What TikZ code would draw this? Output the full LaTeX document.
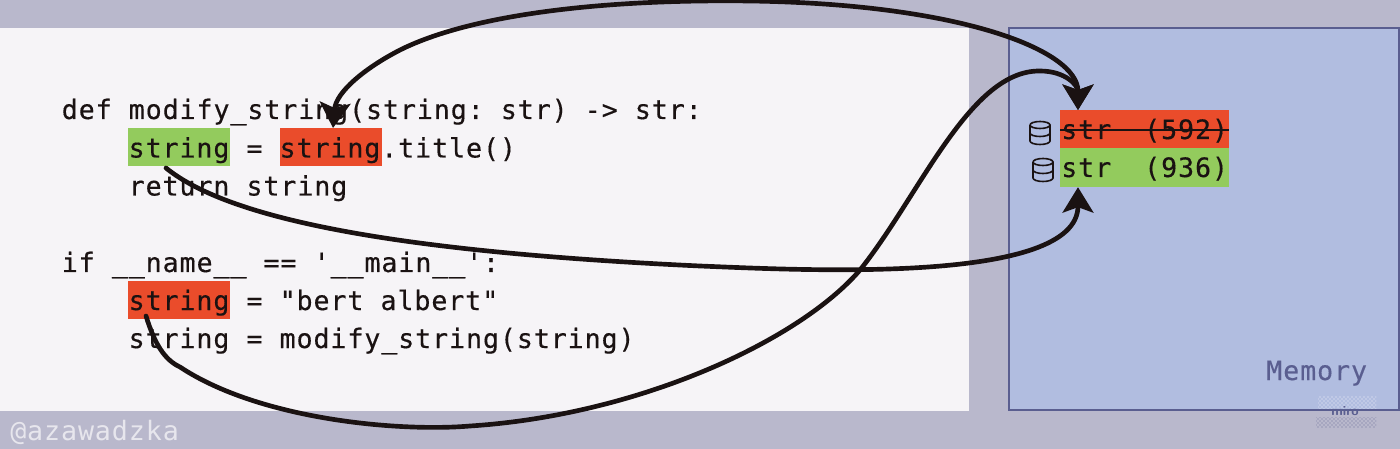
\documentclass[tikz,border=0pt]{standalone}
\usepackage{fontspec}
\usetikzlibrary{arrows.meta,patterns}
\newfontfamily\codefont[LetterSpace=3.35,FakeBold=0.35]{DejaVu Sans Mono}
\newfontfamily\markfont[LetterSpace=3.35]{DejaVu Sans Mono}
\newcommand\codestyle{\codefont\fontsize{20pt}{24pt}\selectfont\frenchspacing\setlength{\spaceskip}{12.8pt}}
\definecolor{pagebg}{HTML}{B9B8CC}
\definecolor{panelbg}{HTML}{F6F4F7}
\definecolor{membg}{HTML}{B1BDE0}
\definecolor{memline}{HTML}{5A5E90}
\definecolor{hlred}{HTML}{EA4C2B}
\definecolor{hlgreen}{HTML}{93CB5D}
\definecolor{ink}{HTML}{1A1212}
\tikzset{
  code/.style={anchor=base west,inner sep=0pt,text=ink,font=\codestyle},
  hlbox/.style={draw=none,inner sep=0pt,minimum width=76.5pt,minimum height=28.5pt},
  membox/.style={draw=none,inner sep=0pt,minimum width=126.75pt,minimum height=29pt},
  flow/.style={draw=ink,line width=3.5pt,line cap=round},
  tiphead/.tip={Stealth[length=19pt,width=23pt,inset=4pt]},
  dbline/.style={draw=ink,line width=1.2pt},
  pics/dbicon/.style={code={
    \draw[dbline] (-10,-8) arc[start angle=180,end angle=-180,x radius=10,y radius=3.5];
    \draw[dbline] (-10,-8) -- (-10,8) arc[start angle=180,end angle=0,x radius=10,y radius=3.5] -- (10,-8);
    \draw[dbline] (-10,0) arc[start angle=180,end angle=0,x radius=10,y radius=3.5];
  }}
}
\begin{document}
\begin{tikzpicture}[x=0.75pt,y=-0.75pt]
\useasboundingbox (0,0) rectangle (1400,449);
\fill[pagebg] (0,0) rectangle (1400,449);
\fill[panelbg] (0,28) rectangle (969,411);
\draw[draw=memline,fill=membg,line width=1.5pt] (1008.5,28.5) rectangle (1399,410);

% highlights
\node[hlbox,fill=hlgreen,anchor=north west] (greenA) at (128,128) {};
\node[hlbox,fill=hlred,anchor=north west] (redA) at (280,128) {};
\node[hlbox,fill=hlred,anchor=north west] (redB) at (128,281) {};
\node[membox,fill=hlred,anchor=north west] (memRed) at (1060,110) {};
\node[membox,fill=hlgreen,anchor=north west] (memGreen) at (1060,148) {};

% code
\node[code] (l1) at (61.5,119) {def modify\_string(string: str) -> str:};
\node[code] (l2) at (61.5,157.5) {\phantom{xxxx}string = string.title()};
\node[code] (l3) at (61.5,195.5) {\phantom{xxxx}return string};
\node[code] (l4) at (61.5,272) {if \_\_name\_\_ == '\_\_main\_\_':};
\node[code] (l5) at (61.5,310) {\phantom{xxxx}string = "bert albert"};
\node[code] (l6) at (61.5,348) {\phantom{xxxx}string = modify\_string(string)};

% memory
\node[code] (s1) at (1061,139) {str\phantom{xx}(592)};
\node[code] (s2) at (1061,177) {str\phantom{xx}(936)};
\draw[ink,line width=1.6pt] (1060,130) -- (1229,130);
\pic at (1040,133) {dbicon};
\pic at (1043,170) {dbicon};
\node[code,text=memline] (mem) at (1266,380) {Memory};

% watermarks
\node[anchor=base west,inner sep=0pt,text=pagebg!35!white,font=\markfont\fontsize{20pt}{24pt}\selectfont] (wm) at (10,440) {@azawadzka};
\fill[pattern=crosshatch dots,pattern color=white!85!membg] (1318,396) rectangle (1376,408);
\fill[pattern=crosshatch dots,pattern color=memline!80!pagebg] (1316,417) rectangle (1376,427);
\node[anchor=base,inner sep=0pt,text=memline,font=\sffamily\bfseries\fontsize{10pt}{12pt}\selectfont] (miro) at (1345,415) {miro};

% connectors
\coordinate (startA) at (146,316);
\coordinate (startB) at (166,168);
\draw[flow,-tiphead] (startA)
  .. controls (155,345) and (165,360) .. (180,367)
  .. controls (260,420) and (400,432) .. (470,426)
  .. controls (640,415) and (800,340) .. (860,270)
  .. controls (920,195) and (970,70) .. (1040,71)
  .. controls (1065,71) and (1078,85) .. (memRed.north -| 1078,110);
\draw[flow,-tiphead] (startB)
  .. controls (230,220) and (400,252) .. (700,266)
  .. controls (800,270) and (1078,285) .. (memGreen.south -| 1078,187);
\draw[flow,tiphead-tiphead] (memRed.north -| 1078,110)
  .. controls (1078,50) and (960,4) .. (750,1)
  .. controls (600,-1) and (470,15) .. (400,50)
  .. controls (365,68) and (336,92) .. (redA.north -| 333,124);
\end{tikzpicture}
\end{document}
